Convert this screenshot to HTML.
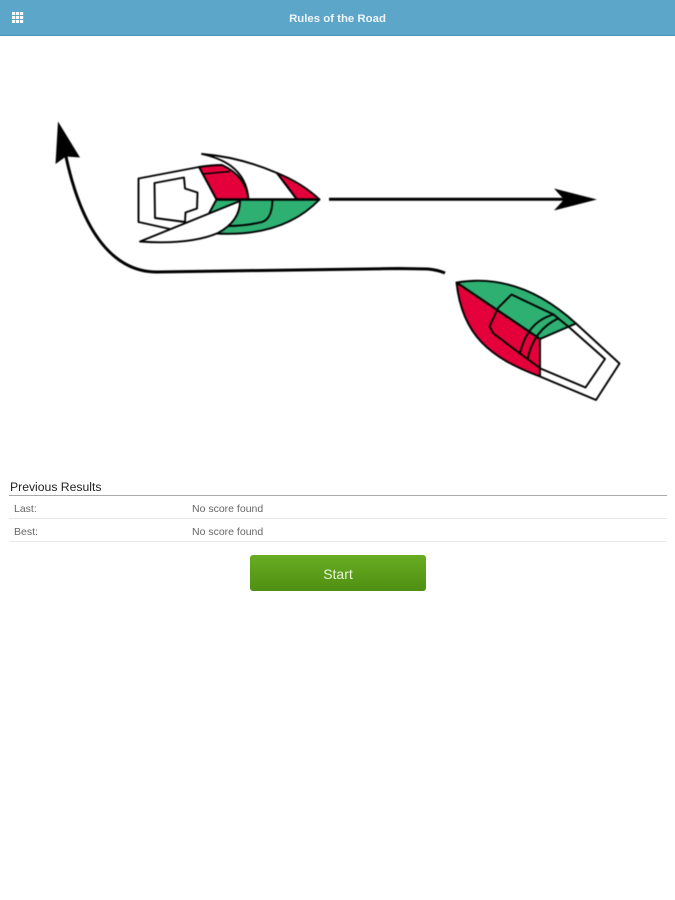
<!DOCTYPE html>
<html>
<head>
<meta charset="utf-8">
<style>
html,body{margin:0;padding:0;background:#fff;}
body{width:675px;height:900px;position:relative;overflow:hidden;font-family:"Liberation Sans",sans-serif;}
.hdr{position:absolute;left:0;top:0;width:675px;height:35px;background:#5ba6c9;border-bottom:1px solid #4b98bc;}
.title{position:absolute;left:0;top:12px;width:675px;text-align:center;color:#fff;font-size:11.4px;font-weight:bold;line-height:15px;opacity:.9;filter:blur(.35px);}
.t{position:absolute;white-space:nowrap;filter:blur(.35px);}
.ln{position:absolute;left:9px;width:658px;}
.btn{position:absolute;left:250px;top:555px;width:176px;height:36px;border-radius:3px;background:linear-gradient(#68ad22,#4f8f12);color:#e8f3da;font-size:14px;line-height:38px;text-align:center;}
svg{position:absolute;left:0;top:0;}
.dg{filter:blur(.4px);}
</style>
</head>
<body>
<div class="hdr"></div>
<svg width="675" height="36" viewBox="0 0 675 36">
<g fill="#f7fbfd">
<rect x="12" y="12" width="3.2" height="3"/><rect x="16" y="12" width="3.2" height="3"/><rect x="20" y="12" width="3.2" height="3"/>
<rect x="12" y="16" width="3.2" height="3"/><rect x="16" y="16" width="3.2" height="3"/><rect x="20" y="16" width="3.2" height="3"/>
<rect x="12" y="20" width="3.2" height="3"/><rect x="16" y="20" width="3.2" height="3"/><rect x="20" y="20" width="3.2" height="3"/>
</g>
</svg>
<div class="title">Rules of the Road</div>

<svg class="dg" width="675" height="900" viewBox="0 0 675 900">
<!-- Boat 1 -->
<g stroke="#000" stroke-width="1.9" stroke-linejoin="round">
<path d="M199 167 L138.5 178.5 L138.5 222 L170 229" fill="#fff"/>
<path d="M154.5 183 L184 177.5 L185 188.5 L197.5 192.5 L197 208.5 L185.5 212.5 L185 222 L155 218 Z" fill="#fff"/>
<path d="M199 167 Q212 165 222 165 Q246 176 248.5 199.5 L216.5 199.5 Z" fill="#e4003a"/>
<path d="M202 174 L230 171.5" fill="none" stroke-width="1.4"/>
<path d="M216.5 199.5 L319.5 199.5 C295 225 260 236 216 233.5 L200 230 Z" fill="#2fb073"/>
<path d="M272.5 200 Q272 219 262 222 Q246 226 226 226" fill="none"/>
<path d="M202 154 Q240 157 277 173 L297 199.5 L248.5 199.5 Q247 178 231 166 Q220 158 202 154 Z" fill="#fff"/>
<path d="M277 173 Q302 183 319.5 199.5 L297 199.5 Z" fill="#e4003a"/>
<path d="M140 241.5 L240 201 Q240 221 218 233 Q190 245 140 241.5 Z" fill="#fff"/>
<path d="M216.5 199.5 L319.5 199.5" fill="none" stroke-width="2.4"/>
</g>
<!-- Boat 2 -->
<g stroke="#000" stroke-width="1.9" stroke-linejoin="round">
<path d="M576 323.5 L619.5 363.5 L596 400 L540 376.5" fill="#fff"/>
<path d="M570 328 L605 359 L585.5 387.5 L540.5 368.5" fill="#fff"/>
<path d="M456.5 282.5 Q520 272 576 323.5 L540 339 Z" fill="#2fb073"/>
<path d="M456.5 282.5 L540 339 L540 376.5 C490 358 462 335 456.5 282.5 Z" fill="#e4003a"/>
<path d="M498 308 L511.5 294.5 L553.5 314.5 L570 328" fill="none"/>
<path d="M498 308 L489.5 326.5 L493.5 333.5 L520 353.5 L540.5 368.5" fill="none"/>
<path d="M553.5 314.5 Q527 322 520 353.5" fill="none"/>
<path d="M559 318 Q533 330 527.5 360" fill="none"/>
<path d="M456.5 282.5 L540 339" fill="none" stroke-width="2.2"/>
</g>
<!-- Straight arrow -->
<path d="M329 199.2 L566 199.2" stroke="#000" stroke-width="3" fill="none"/>
<path d="M597 199.5 L554 188.5 L564 199.5 L554 210.5 Z" fill="#000"/>
<!-- Curved arrow -->
<path d="M445 273 Q438 270 428 269 L398 268.5 Q280 270 157 272 C115 272 82 235 65 152" stroke="#000" stroke-width="3" fill="none"/>
<path d="M58 121.5 L55.5 164 L66 156.5 L80 157.5 Z" fill="#000"/>
</svg>

<div class="t" style="left:10px;top:480px;font-size:12.2px;line-height:14px;color:#222;">Previous Results</div>
<div class="ln" style="top:495px;height:1px;background:#aaa;"></div>
<div class="t" style="left:14px;top:502.5px;font-size:10.5px;line-height:12px;color:#666;">Last:</div>
<div class="t" style="left:192px;top:502.5px;font-size:10.5px;line-height:12px;color:#666;">No score found</div>
<div class="ln" style="top:518px;height:1px;background:#e8e8e8;"></div>
<div class="t" style="left:14px;top:525.5px;font-size:10.5px;line-height:12px;color:#666;">Best:</div>
<div class="t" style="left:192px;top:525.5px;font-size:10.5px;line-height:12px;color:#666;">No score found</div>
<div class="ln" style="top:541px;height:1px;background:#e8e8e8;"></div>
<div class="btn">Start</div>
</body>
</html>
